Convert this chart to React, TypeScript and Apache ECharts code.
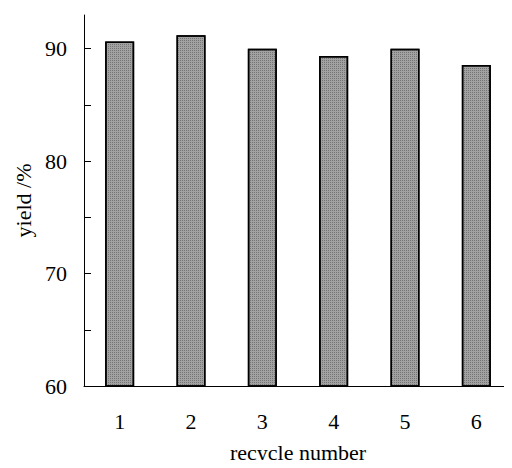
import React, { useEffect, useRef } from "react";
import * as echarts from "echarts";

const categories = ["1", "2", "3", "4", "5", "6"];
const yieldValues = [90.65, 91.2, 90.0, 89.35, 90.0, 88.55];
const yTickValues = [60, 65, 70, 75, 80, 85, 90];
const yLabelValues = [60, 70, 80, 90];

const FONT = "Liberation Serif";

export default function App() {
  const ref = useRef<HTMLDivElement>(null);
  useEffect(() => {
    if (!ref.current) return;
    const chart = echarts.init(ref.current, undefined, { renderer: "svg" });
    chart.setOption({
      animation: false,
      backgroundColor: "#ffffff",
      textStyle: { fontFamily: FONT },
      grid: { left: 84, top: 15, width: 429, bottom: 79 },
      xAxis: {
        type: "category",
        data: categories,
        boundaryGap: true,
        name: "recycle number",
        nameLocation: "middle",
        nameGap: 55,
        nameTextStyle: { fontFamily: FONT, fontSize: 22, color: "#000" },
        axisLine: { lineStyle: { color: "#000", width: 1 } },
        axisTick: { inside: true, length: 5, alignWithLabel: false, lineStyle: { color: "#000" } },
        axisLabel: { fontFamily: FONT, fontSize: 22, color: "#000", margin: 24 },
        splitLine: { show: false },
      },
      yAxis: {
        type: "value",
        min: 60,
        max: 93,
        name: "yield /%",
        nameLocation: "middle",
        nameGap: 48,
        nameRotate: 90,
        nameTextStyle: { fontFamily: FONT, fontSize: 22, color: "#000" },
        axisLine: { show: true, lineStyle: { color: "#000", width: 1 } },
        axisTick: {
          show: true,
          inside: true,
          length: 7,
          customValues: yTickValues,
          lineStyle: { color: "#000" },
        },
        axisLabel: {
          fontFamily: FONT,
          fontSize: 22,
          color: "#000",
          margin: 17,
          customValues: yLabelValues,
        },
        splitLine: { show: false },
      },
      series: [
        {
          type: "bar",
          data: yieldValues,
          barWidth: 29,
          itemStyle: {
            color: "#a2a2a2",
            borderColor: "#000",
            borderWidth: 1.5,
            decal: {
              symbol: "rect",
              symbolSize: 1,
              color: "rgba(70,70,70,0.5)",
              dashArrayX: [1, 1],
              dashArrayY: [1, 1],
              rotation: 0,
            },
          },
        },
      ],
    });
    return () => chart.dispose();
  }, []);
  return <div ref={ref} style={{ width: 512, height: 468, margin: -8 }} />;
}
